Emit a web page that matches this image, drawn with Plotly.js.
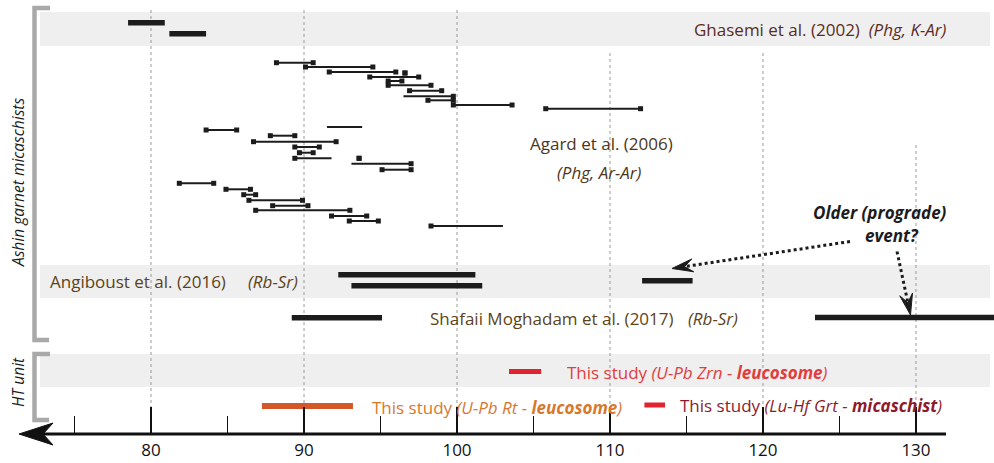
<!DOCTYPE html>
<html><head><meta charset="utf-8">
<script src="https://cdn.plot.ly/plotly-3.0.1.min.js"></script>
<style>html,body{margin:0;padding:0;background:#fff}#chart{width:994px;height:463px}</style>
</head><body><div id="chart"></div>
<script>
// ---------------- DATA (ages in Ma) ----------------
const majorTicks = [80, 90, 100, 110, 120, 130];
const minorTicks = [75, 85, 95, 105, 115, 125];

// Ghasemi et al. (2002) Phg K-Ar
const ghasemiLo  = [78.5, 81.2];
const ghasemiHi  = [80.9, 83.6];
const ghasemiRow = [22.7, 33.7];

// Agard et al. (2006) Phg Ar-Ar
const agardLo  = [88.2, 90.1, 91.65, 96.6, 94.3, 95.5, 95.5, 96.9, 96.5, 98.1, 99.76, 105.8, 91.5, 83.6, 87.8, 86.7, 89.4, 89.7, 89.4, 93.6, 93.1, 95.1, 81.85, 84.9, 86.06, 86.4, 87.95, 86.84, 91.8, 92.96, 98.3];
const agardHi  = [90.6, 94.5, 96.0, 96.6, 97.5, 96.4, 98.3, 99.0, 99.76, 99.76, 103.6, 112.0, 93.8, 85.6, 89.4, 92.1, 91.0, 90.6, 91.8, 93.6, 97.0, 97.0, 84.1, 86.5, 86.84, 89.9, 90.26, 93.0, 94.1, 94.86, 103.0];
const agardRow = [62.7, 67, 72, 73, 77, 81, 85.3, 90.7, 96.3, 100.3, 105, 108.7, 127, 130, 135.7, 141.7, 147, 152.7, 158.3, 158.3, 163.7, 169.7, 183.3, 189.3, 194.7, 200.3, 205.7, 210.3, 216, 221, 226];
const agardCapLo = [1,1,1,1,1,1,1,1,0,1,1,1,0,1,1,1,1,1,1,1,0,1,1,1,1,1,1,1,1,1,1];
const agardCapHi = [1,1,1,1,1,1,1,1,1,1,1,1,0,1,1,1,1,1,0,1,1,1,1,1,1,1,1,1,1,1,0];

// Angiboust et al. (2016) Rb-Sr
const angLo  = [92.24, 93.1, 112.1];
const angHi  = [101.2, 101.65, 115.4];
const angRow = [274.7, 285.7, 280.7];

// Shafaii Moghadam et al. (2017) Rb-Sr
const shaLo  = [89.2, 123.4];
const shaHi  = [95.1, 135.8];
const shaRow = [317.7, 317.5];

// This study
const zrnAge  = [103.4, 105.5]; const zrnRow = 371.5;
const rtAge   = [87.25, 93.2];  const rtRow  = 406;
const luhfAge = [112.25, 113.6]; const luhfRow = 405;

// ---------------- HELPERS ----------------
const W = 994, AX = 434;
const P = px => px / W;          // pixel -> paper x
const Q = py => (AX - py) / AX;  // pixel -> paper y

function segs(lo, hi, row) {
  const x = [], y = [];
  for (let i = 0; i < lo.length; i++) { x.push(lo[i], hi[i], null); y.push(row[i], row[i], null); }
  return {x, y};
}

const traces = [];
const dark = '#1c1c1c';
function barTrace(lo, hi, row, color, width) {
  const s = segs(lo, hi, row);
  traces.push({x: s.x, y: s.y, mode: 'lines', type: 'scatter', hoverinfo: 'skip',
    line: {color: color, width: width}, showlegend: false});
}
barTrace(ghasemiLo, ghasemiHi, ghasemiRow, dark, 5.5);
barTrace(agardLo, agardHi, agardRow, dark, 2);
const mx = [], my = [];
agardLo.forEach((v, i) => {
  if (agardCapLo[i]) { mx.push(agardLo[i]); my.push(agardRow[i]); }
  if (agardCapHi[i]) { mx.push(agardHi[i]); my.push(agardRow[i]); }
});
traces.push({x: mx, y: my, mode: 'markers', type: 'scatter', hoverinfo: 'skip', showlegend: false,
  marker: {symbol: 'square', size: 5, color: dark}});
barTrace(angLo, angHi, angRow, dark, 5.5);
barTrace(shaLo, shaHi, shaRow, dark, 5.5);
barTrace([zrnAge[0]], [zrnAge[1]], [zrnRow], '#e0232f', 5);
barTrace([rtAge[0]], [rtAge[1]], [rtRow], '#d4572a', 6);
barTrace([luhfAge[0]], [luhfAge[1]], [luhfRow], '#e0232f', 5);

// ---------------- SHAPES ----------------
const shapes = [];
const band = (y0, y1) => shapes.push({type: 'rect', xref: 'paper', yref: 'y', x0: P(40), x1: P(990), y0: y0, y1: y1,
  fillcolor: '#efefef', line: {width: 0}, layer: 'below'});
band(12, 46); band(265, 298); band(354, 387);

const gridTop = {80: 10, 90: 10, 100: 10, 110: 53, 120: 53, 130: 145};
majorTicks.forEach(v => shapes.push({type: 'line', xref: 'x', yref: 'y', x0: v, x1: v, y0: gridTop[v], y1: AX,
  line: {color: '#9a9a9a', width: 1, dash: 'dot'}, layer: 'below'}));

const gray = '#a9a9a9';
function bracket(y0, y1) {
  shapes.push({type: 'path', xref: 'paper', yref: 'paper',
    path: `M ${P(50)} ${Q(y0)} L ${P(34.5)} ${Q(y0)} L ${P(34.5)} ${Q(y1)} L ${P(49)} ${Q(y1)}`,
    line: {color: gray, width: 4.5}});
}
bracket(8, 340); bracket(354, 420);

// axis line + arrow head (paper refs so they are not clipped)
shapes.push({type: 'line', xref: 'paper', yref: 'paper', x0: P(40), x1: P(946), y0: Q(AX), y1: Q(AX),
  line: {color: '#111', width: 3}});
shapes.push({type: 'path', xref: 'paper', yref: 'paper',
  path: `M ${P(19)} ${Q(AX)} L ${P(53)} ${Q(AX - 11)} L ${P(43)} ${Q(AX)} L ${P(53)} ${Q(AX + 11)} Z`,
  fillcolor: '#111', line: {color: '#111', width: 1}});

function dottedArrow(tx, ty, hx, hy, L, Wd) {
  const dx = hx - tx, dy = hy - ty, d = Math.hypot(dx, dy);
  const ux = dx / d, uy = dy / d, nx = -uy, ny = ux;
  const bx = hx - L * ux, by = hy - L * uy;
  const kx = hx - 0.6 * L * ux, ky = hy - 0.6 * L * uy;
  shapes.push({type: 'line', xref: 'paper', yref: 'y', x0: P(tx), y0: ty, x1: P(kx), y1: ky,
    line: {color: '#1c1c1c', width: 3, dash: 'dot'}});
  shapes.push({type: 'path', xref: 'paper', yref: 'y',
    path: `M ${P(hx)} ${hy} L ${P(bx + Wd * nx)} ${by + Wd * ny} L ${P(kx)} ${ky} L ${P(bx - Wd * nx)} ${by - Wd * ny} Z`,
    fillcolor: '#1c1c1c', line: {color: '#1c1c1c', width: 1}});
}
dottedArrow(850, 241.5, 672, 268.5, 21, 6.5);
dottedArrow(897, 251.5, 910.5, 315, 21, 6.5);

// ---------------- ANNOTATIONS ----------------
const F = 'Open Sans, Noto Sans, sans-serif';
const ann = [];
function txt(x, y, text, color, size, xanchor, extra) {
  ann.push(Object.assign({xref: 'paper', yref: 'y', x: P(x), y: y, text: text, showarrow: false,
    xanchor: xanchor || 'left', yanchor: 'middle', font: {family: F, size: size, color: color}}, extra || {}));
}
const S = 17;
txt(949, 29, 'Ghasemi et al. (2002)  <i>(Phg, K-Ar)</i>', '#5b2b22', S, 'right');
txt(601, 143, 'Agard et al. (2006)', '#4b3621', S, 'center');
txt(599, 172, '<i>(Phg, Ar-Ar)</i>', '#4b3621', S, 'center');
txt(48, 281, 'Angiboust et al. (2016)', '#5c4319', S, 'left');
txt(246, 281, '<i>(Rb-Sr)</i>', '#5c4319', S, 'left');
txt(428, 318, 'Shafaii Moghadam et al. (2017)', '#5c4319', S, 'left');
txt(686, 318, '<i>(Rb-Sr)</i>', '#5c4319', S, 'left');
txt(565, 372, 'This study <i>(U-Pb Zrn - <b>leucosome</b>)</i>', '#e23c3c', S, 'left');
txt(370, 407, 'This study <i>(U-Pb Rt - <b>leucosome</b>)</i>', '#d8782e', S, 'left');
txt(678, 405, 'This study <i>(Lu-Hf Grt - <b>micaschist</b>)</i>', '#8c1b2e', S, 'left');
txt(880, 212, '<b><i>Older (prograde)</i></b>', '#1c1c1c', 17, 'center');
txt(892, 235, '<b><i>event?</i></b>', '#1c1c1c', 17, 'center');
txt(18, 183, '<i>Ashin garnet micaschists</i>', '#1c1c1c', 15.5, 'center', {textangle: -90});
txt(18, 382, '<i>HT unit</i>', '#1c1c1c', 15.5, 'center', {textangle: -90});

const layout = {
  width: 994, height: 463,
  margin: {l: 0, r: 0, t: 0, b: 463 - AX, pad: 0},
  paper_bgcolor: '#fff', plot_bgcolor: '#fff',
  showlegend: false,
  xaxis: {range: [70.13, 135.1], tickvals: majorTicks, ticks: 'inside', ticklen: 27, tickwidth: 1.5,
    tickcolor: '#111', showgrid: false, zeroline: false, showline: false, fixedrange: true,
    tickfont: {family: F, size: 17, color: '#111'}, ticklabelstandoff: 4,
    minor: {tickvals: minorTicks, ticks: 'inside', ticklen: 18, tickwidth: 1.5, tickcolor: '#111', showgrid: false}},
  yaxis: {range: [AX, 0], visible: false, fixedrange: true},
  shapes: shapes,
  annotations: ann
};
Plotly.newPlot('chart', traces, layout, {staticPlot: true, displayModeBar: false});
</script>
</body></html>
